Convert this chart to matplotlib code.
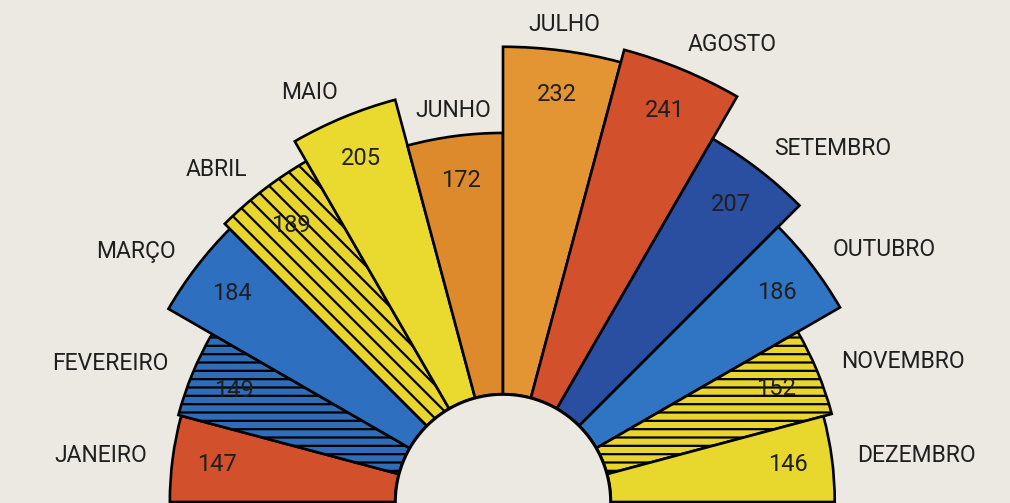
import numpy as np
import matplotlib
matplotlib.use("Agg")
import matplotlib.pyplot as plt

# ---- data ----
months = ["JANEIRO", "FEVEREIRO", "MARÇO", "ABRIL", "MAIO", "JUNHO",
          "JULHO", "AGOSTO", "SETEMBRO", "OUTUBRO", "NOVEMBRO", "DEZEMBRO"]
values = [147, 149, 184, 189, 205, 172, 232, 241, 207, 186, 152, 146]

# ---- styles ----
colors = ["#d2502c", "#2f6db8", "#2f6fc0", "#e8d62e", "#ead92e", "#dc8a2c",
          "#e39534", "#d2502c", "#2b4fa0", "#3075c3", "#e8d62e", "#e8d82e"]
hatches = [None, "--", None, "\\\\", None, None,
           None, None, None, None, "--", None]

plt.rcParams["font.family"] = ["Roboto", "DejaVu Sans"]
plt.rcParams["hatch.linewidth"] = 1.6

W, H, DPI = 1010, 503, 100
bg = "#ebe9e1"
fig = plt.figure(figsize=(W / DPI, H / DPI), dpi=DPI, facecolor=bg)

# polar layout (pixels)
cx, cy = 503, 1            # center, y measured from bottom
px_per_unit = 1.436
rorigin, rmin, rmax = -85, -10, 265
R = (rmax - rorigin) * px_per_unit
ax = fig.add_axes([(cx - R) / W, (cy - R) / H, 2 * R / W, 2 * R / H],
                  projection="polar")
ax.set_facecolor("none")
ax.set_rorigin(rorigin)
ax.set_ylim(rmin, rmax)
ax.set_axis_off()

n = len(values)
step = np.pi / n
theta = np.pi - (np.arange(n) + 0.5) * step
vals = np.array(values, dtype=float)

for t, v, c, h in zip(theta, vals, colors, hatches):
    ax.bar(t, v - rmin, bottom=rmin, width=step, color=c, edgecolor="black",
           linewidth=1.9, hatch=h, align="center", zorder=2)

# inner circle outline
tt = np.linspace(0, np.pi, 200)
ax.plot(tt, np.full_like(tt, rmin), color="black", lw=2.2, zorder=3,
        clip_on=False)

txt_color = "#1f1f1f"
for t, v in zip(theta, vals):
    ax.text(t, v - 31, f"{int(v)}", ha="center", va="center", fontsize=17,
            color=txt_color, zorder=4)

for t, v, m in zip(theta, vals, months):
    c, s = np.cos(t), np.sin(t)
    ha = "left" if c > 0.25 else ("right" if c < -0.25 else "center")
    va = "bottom" if s > 0.85 else "center"
    gap = 10 if va == "bottom" else 18
    ax.text(t, v + gap, m, ha=ha, va=va, fontsize=16.5, color=txt_color,
            clip_on=False, zorder=4)

fig.savefig("out.png", dpi=DPI, facecolor=bg)
